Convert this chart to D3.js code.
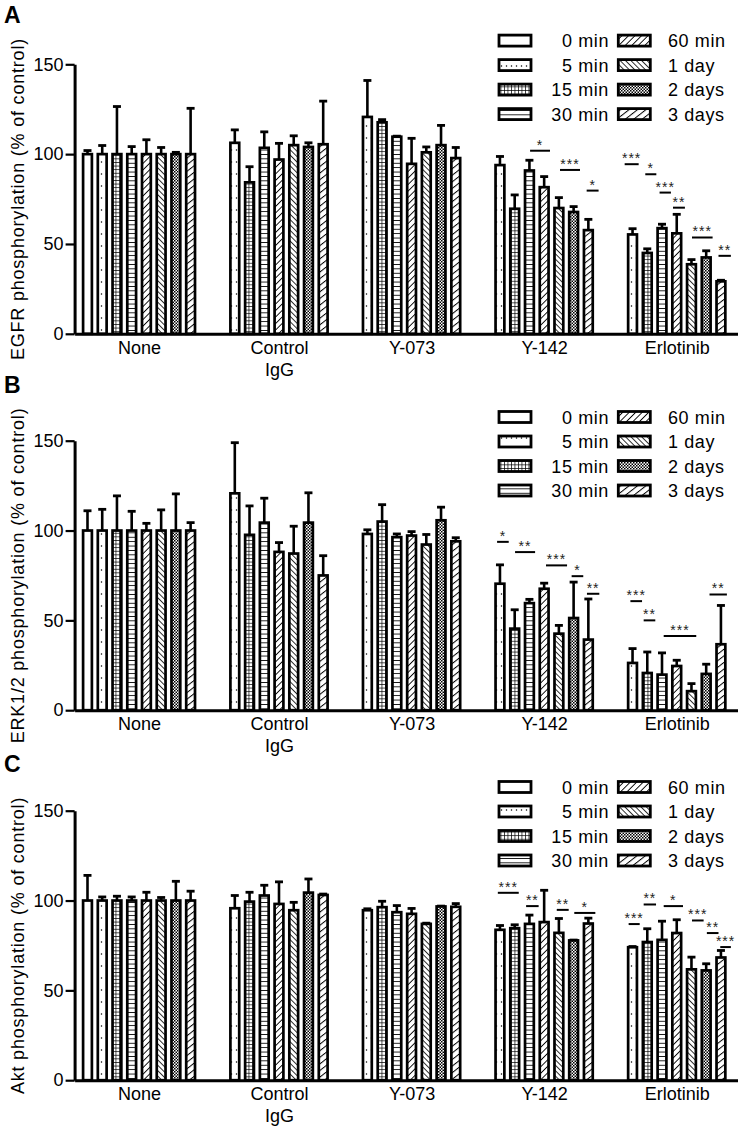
<!DOCTYPE html>
<html><head><meta charset="utf-8">
<script src="https://cdn.jsdelivr.net/npm/d3@7"></script>
<style>body{margin:0;background:#fff}svg{display:block}text{font-family:"Liberation Sans",Arial,sans-serif}</style></head>
<body><svg id="c" width="741" height="1133"></svg>
<script>
// ---------- data ----------
const groups = ["None", "Control|IgG", "Y-073", "Y-142", "Erlotinib"];
const seriesNames = ["0 min", "5 min", "15 min", "30 min", "60 min", "1 day", "2 days", "3 days"];
const yTicks = [0, 50, 100, 150];
const panelLetters = ["A", "B", "C"];
const panelTitles = ["EGFR phosphorylation (% of control)", "ERK1/2 phosphorylation (% of control)", "Akt phosphorylation (% of control)"];

const egfrMean = [
  [100, 100, 100, 100, 100, 100, 100, 100],
  [null, 106.3, 84.3, 103.5, 97, 105, 104, 105.5],
  [null, 120.7, 117.7, 109.7, 94.6, 101, 105, 97.8],
  [null, 93.9, 69.6, 90.9, 81.6, 70, 67.8, 57.7],
  [null, 55.3, 45, 58.8, 55.9, 38.7, 42.5, 29.2]
];
const egfrErr = [
  [2, 4.8, 26.5, 4.2, 8, 3.7, 1, 25.5],
  [null, 7.2, 8.7, 8.9, 9, 5.2, 2.3, 24],
  [null, 20.3, 1.5, 0.3, 14.2, 3, 11, 5.9],
  [null, 4.8, 7.7, 5.7, 5.9, 5.8, 3, 6],
  [null, 3.2, 2.3, 2.2, 10.6, 2.6, 3.7, 0.6]
];
const erkMean = [
  [100, 100, 100, 100, 100, 100, 100, 100],
  [null, 120.7, 97.6, 104.4, 88.1, 87.2, 104.4, 75],
  [null, 98.1, 105, 96.3, 97.2, 92.2, 105.7, 94],
  [null, 70.4, 45.4, 59.6, 67.6, 42.6, 51.3, 39.3],
  [null, 26.3, 20.7, 19.8, 24.6, 10.6, 20.2, 36.7]
];
const erkErr = [
  [11, 11.8, 19.3, 10.7, 4, 11.5, 20.4, 4.4],
  [null, 28.2, 16.1, 13.6, 5.2, 15.2, 16.6, 11],
  [null, 2.3, 9.4, 1.8, 2.2, 5.6, 7.3, 2],
  [null, 10.5, 10.5, 2.1, 3.1, 4.6, 20, 22.6],
  [null, 8, 11.7, 12.1, 3.2, 4.2, 5.4, 21.6]
];
const aktMean = [
  [100, 100, 100, 100, 100, 100, 100, 100],
  [null, 95.7, 99.4, 102.8, 98.1, 94.6, 104.4, 103.1],
  [null, 94.6, 96.3, 93.5, 92.6, 87, 96.7, 96.5],
  [null, 83.7, 84.6, 87, 88, 82, 77.8, 87.2],
  [null, 74, 76.9, 78.1, 81.9, 61.7, 61.1, 68.3]
];
const aktErr = [
  [14, 2, 2.4, 2, 4.6, 1.7, 10.7, 5.2],
  [null, 7.1, 5.2, 5.7, 12.3, 4.4, 7.6, 0.5],
  [null, 0.8, 3.3, 3.7, 3, 0.4, 0.2, 1.8],
  [null, 2.4, 1.9, 4.9, 17.7, 8, 0.2, 3],
  [null, 0.4, 7.4, 10.4, 7.4, 6.8, 3.7, 3.9]
];
// significance marks: [group, from (bar units), to (bar units), value, label]
const egfrSig = [
  [3, 2.42, 3.77, 101.9, "*"], [3, 4.45, 5.81, 91.2, "***"], [3, 6.26, 7.07, 79.7, "*"],
  [4, -0.16, 0.79, 94.4, "***"], [4, 1.24, 1.99, 88.8, "*"], [4, 2.21, 2.98, 78.6, "***"],
  [4, 3.12, 3.93, 70.2, "**"], [4, 4.41, 5.81, 53.6, "***"], [4, 6.21, 7.05, 43.4, "**"]
];
const erkSig = [
  [3, 0.18, 0.97, 93.7, "*"], [3, 1.40, 2.76, 88, "**"], [3, 3.50, 4.93, 80.6, "***"],
  [3, 5.24, 6.03, 74.6, "*"], [3, 6.28, 7.12, 64.8, "**"],
  [4, 0.23, 1.02, 60.7, "***"], [4, 1.13, 1.92, 50, "**"], [4, 2.49, 4.70, 41.3, "***"], [4, 5.60, 6.78, 64.4, "**"]
];
const aktSig = [
  [3, 0.23, 1.65, 104.3, "***"], [3, 2.15, 3.0, 96.9, "**"], [3, 4.23, 5.04, 94.8, "**"], [3, 5.42, 6.85, 93.1, "*"],
  [4, 0.11, 0.86, 86.9, "***"], [4, 1.13, 1.97, 97.8, "**"], [4, 2.49, 3.80, 96.9, "*"],
  [4, 4.41, 5.20, 88.9, "***"], [4, 5.42, 6.21, 81.9, "**"], [4, 6.33, 7.05, 74.1, "***"]
];

const panels = [
  {mean: egfrMean, err: egfrErr, sig: egfrSig},
  {mean: erkMean, err: erkErr, sig: erkSig},
  {mean: aktMean, err: aktErr, sig: aktSig}
];

// ---------- layout ----------
const svg = d3.select("#c");
const panelTop = [64.3, 440.7, 810.7];
const panelH = 269.5;
const letterY = [23, 393, 772];
const GAP = 2;

const groupStart = [];
let s = 0;
groups.forEach((g, gi) => {
  groupStart.push(s);
  const n = egfrMean[gi].filter(v => v !== null).length;
  s += n + GAP;
});
const totalSlots = s - GAP;
const x = d3.scaleLinear().domain([-0.5, totalSlots + 0.5]).range([74.6, 737.5]);
const barW = 8.8;

// ---------- patterns ----------
const defs = svg.append("defs");
function pat(id, w, h, rot) {
  const p = defs.append("pattern").attr("id", id).attr("patternUnits", "userSpaceOnUse")
    .attr("width", w).attr("height", h);
  if (rot) p.attr("patternTransform", `rotate(${rot})`);
  p.append("rect").attr("width", w).attr("height", h).attr("fill", "#fff");
  return p;
}
function ln(p, x1, y1, x2, y2, sw) {
  p.append("line").attr("x1", x1).attr("y1", y1).attr("x2", x2).attr("y2", y2).attr("stroke", "#000").attr("stroke-width", sw);
}
pat("p0", 4, 4);
let p = pat("p1", 5, 12); p.append("circle").attr("cx", 1.5).attr("cy", 6).attr("r", 0.75).attr("fill", "#000");
p = pat("p2", 3.5, 3.6); ln(p, 0, 0, 0, 3.6, 1.4); ln(p, 0, 0, 3.5, 0, 1.4);
p = pat("p3", 4, 4.4); ln(p, 0, 0, 4, 0, 1.7);
p = pat("p4", 4.6, 4.6, 45); ln(p, 0, 0, 0, 4.6, 1.8);
p = pat("p5", 3.8, 3.8, -45); ln(p, 0, 0, 0, 3.8, 1.6);
p = pat("p6", 3, 3);
p.append("rect").attr("width", 1.5).attr("height", 1.5).attr("fill", "#000");
p.append("rect").attr("x", 1.5).attr("y", 1.5).attr("width", 1.5).attr("height", 1.5).attr("fill", "#000");
p = pat("p7", 5.2, 5.2, 52); ln(p, 0, 0, 0, 5.2, 2);

// ---------- panels ----------
panels.forEach((pd, pi) => {
  const top = panelTop[pi];
  const y = d3.scaleLinear().domain([0, 150]).range([top + panelH, top]);
  const g = svg.append("g");

  const bars = [];
  pd.mean.forEach((row, gi) => {
    let k = 0;
    row.forEach((v, si) => {
      if (v === null) return;
      bars.push({gi, si, slot: groupStart[gi] + k, v, e: pd.err[gi][si]});
      k++;
    });
  });
  const cx = d => x(d.slot + 0.375);
  g.selectAll("line.eb").data(bars).join("line").attr("class", "eb")
    .attr("x1", cx).attr("x2", cx).attr("y1", d => y(d.v)).attr("y2", d => y(d.v + d.e))
    .attr("stroke", "#000").attr("stroke-width", 2.6);
  g.selectAll("line.cap").data(bars).join("line").attr("class", "cap")
    .attr("x1", d => cx(d) - 4).attr("x2", d => cx(d) + 4).attr("y1", d => y(d.v + d.e)).attr("y2", d => y(d.v + d.e))
    .attr("stroke", "#000").attr("stroke-width", 2.8);
  g.selectAll("rect.bar").data(bars).join("rect").attr("class", "bar")
    .attr("x", d => cx(d) - barW / 2).attr("width", barW)
    .attr("y", d => y(d.v)).attr("height", d => y(0) - y(d.v))
    .attr("fill", d => `url(#p${d.si})`).attr("stroke", "#000").attr("stroke-width", 2.7);

  // y axis
  const ya = g.append("g").attr("transform", `translate(${x(-0.5)},0)`)
    .call(d3.axisLeft(y).tickValues(yTicks).tickSize(9).tickSizeOuter(0).tickPadding(2));
  ya.select(".domain").attr("stroke-width", 3);
  ya.selectAll(".tick line").attr("stroke-width", 2.2);
  ya.selectAll(".tick text").attr("font-size", 18).attr("fill", "#000").attr("font-family", "Liberation Sans, Arial, sans-serif");

  // x axis
  const xa = g.append("g").attr("transform", `translate(0,${y(0)})`)
    .call(d3.axisBottom(x).tickValues(groups.map((gn, gi) => groupStart[gi] + (pd.mean[gi].filter(v => v !== null).length) / 2 - 0.125))
      .tickSize(0).tickSizeOuter(0).tickFormat(""));
  xa.select(".domain").attr("stroke-width", 3);
  xa.selectAll(".tick").each(function(d, i) {
    const lines = groups[i].split("|");
    const t = d3.select(this).append("text").attr("fill", "#000").attr("font-size", 18)
      .attr("font-family", "Liberation Sans, Arial, sans-serif").attr("text-anchor", "middle");
    lines.forEach((l, li) => t.append("tspan").attr("x", 0).attr("y", 20 + li * 22).text(l));
  });

  // y title
  g.append("text").attr("transform", `translate(24,${(y(0) + y(150)) / 2}) rotate(-90)`)
    .attr("text-anchor", "middle").attr("font-size", 18).attr("letter-spacing", 0.8).attr("fill", "#000").text(panelTitles[pi]);

  // panel letter
  g.append("text").attr("x", 4).attr("y", letterY[pi]).attr("font-size", 23).attr("font-weight", "bold")
    .attr("fill", "#000").text(panelLetters[pi]);

  // significance
  const sg = g.selectAll("g.sig").data(pd.sig).join("g").attr("class", "sig");
  sg.append("line").attr("x1", d => x(groupStart[d[0]] + d[1])).attr("x2", d => x(groupStart[d[0]] + d[2]))
    .attr("y1", d => y(d[3])).attr("y2", d => y(d[3])).attr("stroke", "#000").attr("stroke-width", 2);
  sg.append("text").attr("x", d => (x(groupStart[d[0]] + d[1]) + x(groupStart[d[0]] + d[2])) / 2)
    .attr("y", d => y(d[3]) - 1).attr("text-anchor", "middle").attr("font-size", 14).attr("letter-spacing", 1)
    .attr("fill", "#222").text(d => d[4]);

  // legend
  const lg = g.append("g");
  seriesNames.forEach((name, si) => {
    const col = Math.floor(si / 4), row = si % 4;
    const ry = top - 23.7 + row * 24.5;
    const sx = col === 0 ? 499 : 618.3;
    lg.append("rect").attr("x", sx).attr("y", ry - 5.5).attr("width", 32).attr("height", 11)
      .attr("fill", `url(#p${si})`).attr("stroke", "#000").attr("stroke-width", 2.8);
    lg.append("text").attr("x", col === 0 ? 609 : 668).attr("y", ry + 6.5)
      .attr("text-anchor", col === 0 ? "end" : "start").attr("font-size", 18).attr("fill", "#000")
      .attr("letter-spacing", 0.6).text(name);
  });
});
</script>
</body></html>
